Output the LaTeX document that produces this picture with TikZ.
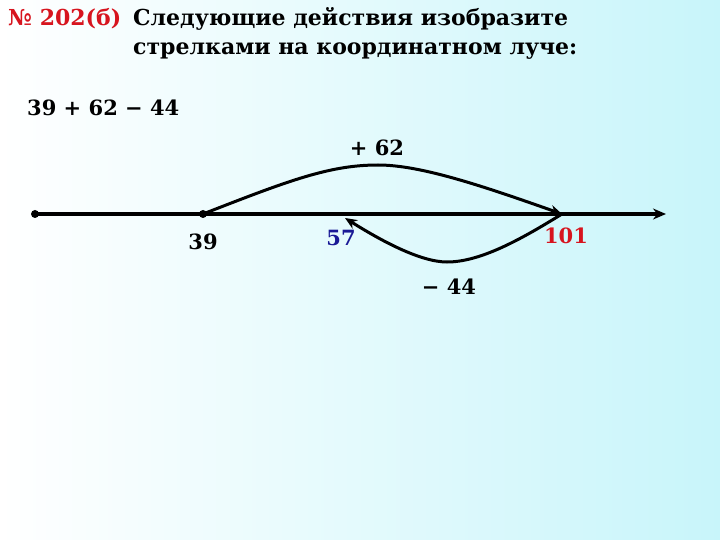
\documentclass[tikz,border=0pt]{standalone}
\usepackage{fontspec}
\setmainfont{DejaVu Serif}
\usetikzlibrary{arrows.meta}
\definecolor{bgcyan}{RGB}{200,245,250}
\definecolor{numred}{RGB}{215,20,30}
\definecolor{numblue}{RGB}{25,25,150}
\tikzset{
  txt/.style={font=\bfseries\fontsize{22}{26}\selectfont, inner sep=0pt},
  num/.style={font=\bfseries\fontsize{21}{24}\selectfont, inner sep=0pt},
  axisline/.style={line width=3.6pt, -{Stealth[length=13pt,width=11pt]}},
  jump/.style={line width=3pt, -{Stealth[length=12pt,width=10pt]}},
  dot/.style={circle, fill=black, minimum size=8pt, inner sep=0pt}
}
\begin{document}
\begin{tikzpicture}[x=1pt,y=-1pt]
\shade[shading angle=-60, left color=white, right color=bgcyan] (0,0) rectangle (720,540);
\useasboundingbox (0,0) rectangle (720,540);
% title
\node[txt, anchor=west, text=numred] (no) at (8,19) {№ 202(б)};
\node[txt, anchor=west] (t1) at (133,19) {Следующие действия изобразите};
\node[txt, anchor=west] (t2) at (133,51) {стрелками на координатном луче:};
\node[num, anchor=west] (expr) at (27,108) {39 + 62 − 44};
% axis
\coordinate (O) at (35,214);
\coordinate (A) at (203,214);
\coordinate (B) at (562,214);
\coordinate (C) at (345,218);
\coordinate (E) at (666,214);
\draw[axisline] (O) -- (E);
\node[dot] (dO) at (O) {};
\node[dot] (dA) at (A) {};
% jumps
\draw[jump] (A) .. controls (290,180) and (330,165) .. (378,165) .. controls (420,165) and (480,185) .. (B);
\draw[jump] (B) .. controls (520,240) and (480,262) .. (447,262) .. controls (420,262) and (380,240) .. (C);
% labels
\node[num] (l62) at (377,148) {+ 62};
\node[num] (l39) at (203,242) {39};
\node[num, text=numblue] (l57) at (341,238) {57};
\node[num, text=numred] (l101) at (566,236) {101};
\node[num] (l44) at (449,287) {− 44};
\end{tikzpicture}
\end{document}
